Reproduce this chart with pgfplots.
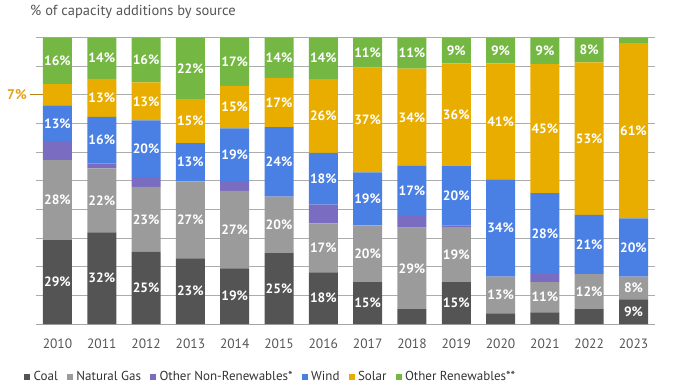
\documentclass[border=0pt]{standalone}
\usepackage{pgfplots}
\pgfplotsset{compat=1.18}
\usepackage{pgfplotstable}
\usepackage{fontspec}
\setmainfont{PT Sans}
\definecolor{coal}{HTML}{545454}
\definecolor{gas}{HTML}{9B9B9B}
\definecolor{othnr}{HTML}{7A6CC0}
\definecolor{wind}{HTML}{4A7FE3}
\definecolor{solar}{HTML}{E9AD00}
\definecolor{othr}{HTML}{74B843}
\definecolor{txtgray}{HTML}{555555}
\definecolor{lblorange}{HTML}{E3A21A}
\pgfplotstableread{
x coal gas other wind solar green
0 29.3 27.9 6.4 12.7 7.4 16.3
1 32.0 22.3 1.7 16.3 13.3 14.4
2 25.2 22.7 3.1 20.1 13.2 15.7
3 22.9 26.9 0.0 13.3 15.4 21.5
4 19.4 27.1 3.0 18.8 14.8 16.9
5 24.7 19.8 0.0 24.2 17.2 14.1
6 18.0 17.1 6.6 18.0 25.8 14.5
7 14.6 19.8 0.0 18.5 36.6 10.5
8 5.2 28.4 4.4 17.2 33.9 10.9
9 14.6 19.2 0.6 20.9 35.7 9.0
10 3.7 12.8 0.0 34.0 40.5 9.0
11 4.1 10.5 2.8 28.3 45.1 9.2
12 5.2 12.2 0.0 20.7 53.2 8.7
13 8.6 7.9 0.0 20.4 61.1 2.0
}\data
\pgfplotstableread{
x y l
0 14.65 29
1 16.0 32
2 12.6 25
3 11.45 23
4 9.7 19
5 12.35 25
6 9.0 18
7 7.3 15
9 7.3 15
13 4.3 9
0 43.25 28
1 43.15 22
2 36.55 23
3 36.35 27
4 32.95 27
5 34.6 20
6 26.55 17
7 24.5 20
8 19.4 29
9 24.2 19
10 10.1 13
11 9.35 11
12 11.3 12
13 12.55 8
0 69.95 13
1 64.15 16
2 61.05 20
3 56.45 13
4 58.9 19
5 56.6 24
6 50.7 18
7 43.65 19
8 46.6 17
9 44.85 20
10 33.5 34
11 31.55 28
12 27.75 21
13 26.7 20
1 78.95 13
2 77.7 13
3 70.8 15
4 75.7 15
5 77.3 17
6 72.6 26
7 71.2 37
8 72.15 34
9 73.15 36
10 70.75 41
11 68.25 45
12 64.7 53
13 67.45 61
0 91.85 16
1 92.8 14
2 92.15 16
3 89.25 22
4 91.55 17
5 92.95 14
6 92.75 14
7 94.75 11
8 94.55 11
9 95.5 9
10 95.5 9
11 95.4 9
12 95.65 8
}\labels
\begin{document}
\begin{tikzpicture}
\useasboundingbox (-36pt,-65pt) rectangle (642pt,324pt);
\begin{axis}[
  at={(0pt,0pt)}, anchor=south west,
  scale only axis, width=619pt, height=286.5pt,
  xmin=-0.485, xmax=13.485, ymin=0, ymax=100,
  ybar stacked, bar width=29pt,
  axis x line*=bottom, axis y line*=left,
  x axis line style={draw=gray!70, line width=0.8pt},
  y axis line style={draw=none},
  ytick={0,10,...,100}, yticklabels={},
  ymajorgrids, grid style={draw=gray!65, line width=0.8pt},
  major tick length=0pt,
  xtick={0,...,13},
  xticklabels={2010,2011,2012,2013,2014,2015,2016,2017,2018,2019,2020,2021,2022,2023},
  xticklabel style={text=txtgray, font=\fontsize{13.5}{13.5}\selectfont, yshift=-11pt},
  legend columns=6,
  legend style={at={(-0.0242,-0.185)}, anchor=west, draw=none, fill=none,
    font=\fontsize{13}{13}\selectfont, text=black!80,
    /tikz/every even column/.append style={column sep=8pt},
    /tikz/every odd column/.append style={column sep=2.5pt},
    nodes={inner sep=1pt}},
  legend image code/.code={\fill[#1] (0pt,-3pt) rectangle (6pt,3pt);},
]
\addplot[fill=coal, draw=none] table[x=x, y=coal] {\data};
\addlegendentry{Coal}
\addplot[fill=gas, draw=none] table[x=x, y=gas] {\data};
\addlegendentry{Natural Gas}
\addplot[fill=othnr, draw=none] table[x=x, y=other] {\data};
\addlegendentry{Other Non-Renewables*}
\addplot[fill=wind, draw=none] table[x=x, y=wind] {\data};
\addlegendentry{Wind}
\addplot[fill=solar, draw=none] table[x=x, y=solar] {\data};
\addlegendentry{Solar}
\addplot[fill=othr, draw=none] table[x=x, y=green] {\data};
\addlegendentry{Other Renewables**}
\end{axis}
\begin{axis}[
  at={(0pt,0pt)}, anchor=south west,
  scale only axis, width=619pt, height=286.5pt,
  xmin=-0.485, xmax=13.485, ymin=0, ymax=100,
  hide axis, clip=false,
]
\addplot[draw=none, mark=none, point meta=explicit symbolic,
  nodes near coords={\pgfplotspointmeta\%}, nodes near coords align=center,
  every node near coord/.style={anchor=center, text=white, font=\bfseries\fontsize{13.5}{13.5}\selectfont}]
  table[x=x, y=y, meta=l] {\labels};
\addplot[draw=lblorange!80!black, line width=0.8pt, mark=none] coordinates {(-0.62,80.1) (-0.33,80.1)};
\addplot[draw=none, mark=none, point meta=explicit symbolic,
  nodes near coords={\pgfplotspointmeta\%}, nodes near coords align=center,
  every node near coord/.style={anchor=center, text=lblorange, font=\bfseries\fontsize{14}{14}\selectfont}]
  coordinates {(-0.914,80.1) [7]};
\end{axis}
\node[anchor=west, inner sep=0pt, text=txtgray, font=\fontsize{14.5}{14.5}\selectfont] at (-6pt,312pt) {\% of capacity additions by source};
\end{tikzpicture}
\end{document}
